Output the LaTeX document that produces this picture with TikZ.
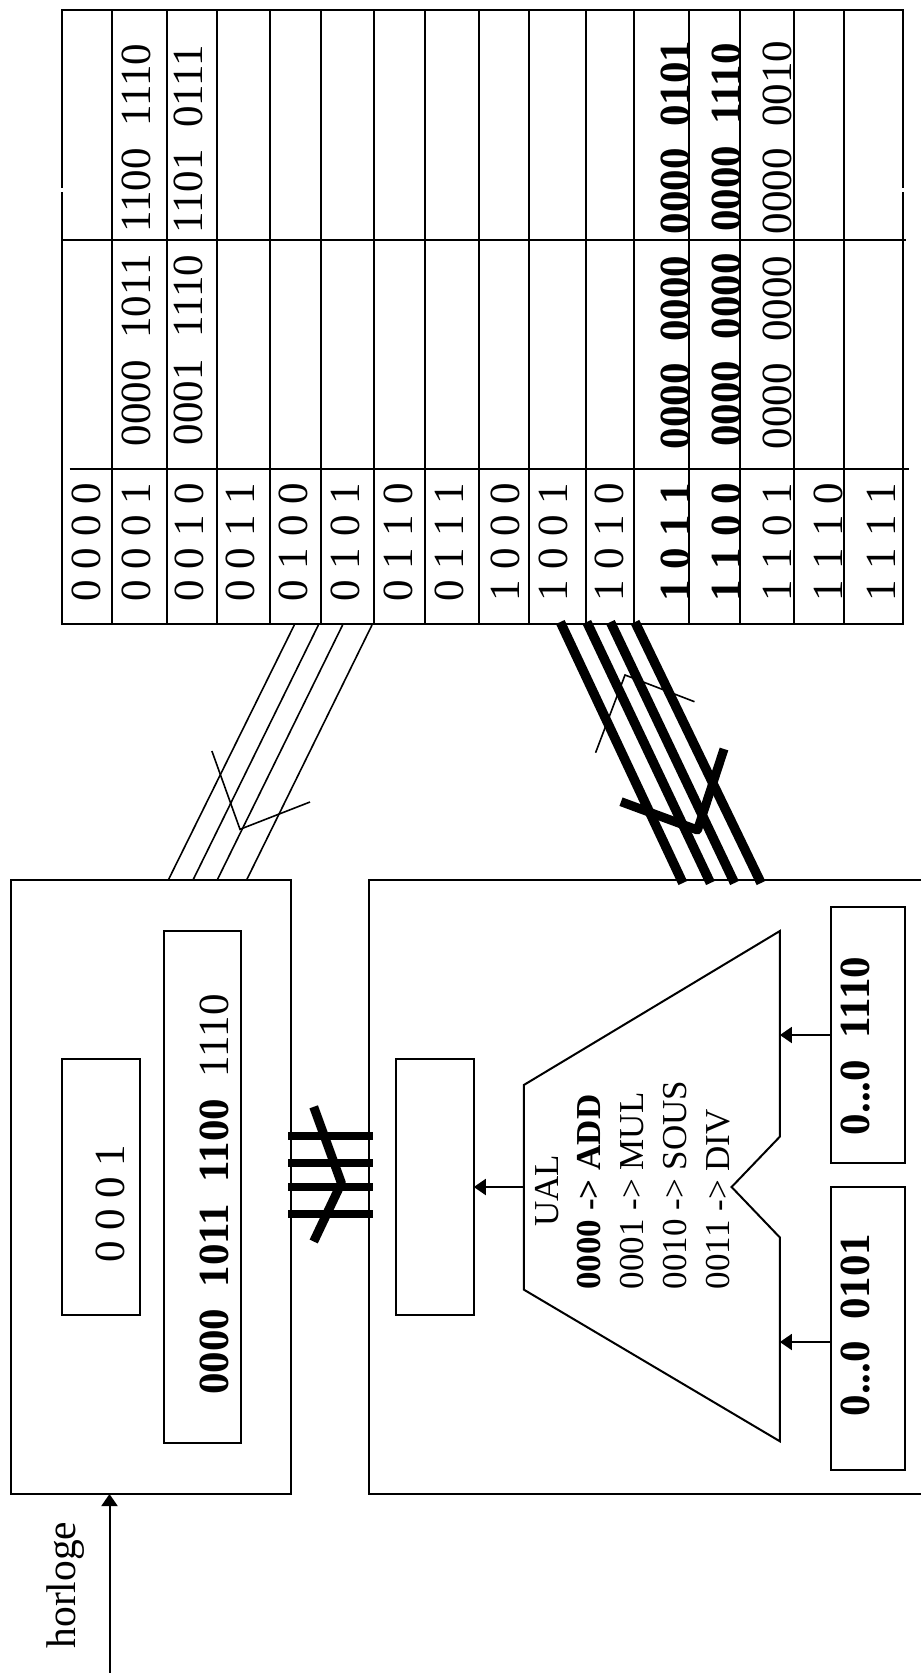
\documentclass[tikz,border=0pt]{standalone}
\usepackage{fontspec}
\setmainfont{Liberation Serif}
\usetikzlibrary{arrows.meta}
\tikzset{
  x=1pt,y=-1pt,
  line/.style={draw=black,line width=2pt},
  box/.style={line,anchor=north west,inner sep=0pt,outer sep=0pt,fill=none},
  big/.style={rotate=90,inner sep=0pt,outer sep=0pt,font=\fontsize{43}{50}\selectfont},
  bigb/.style={big,font=\fontsize{43}{50}\selectfont\bfseries},
  ual/.style={rotate=90,inner sep=0pt,outer sep=0pt,anchor=west,font=\fontsize{35}{40}\selectfont},
  ualb/.style={ual,font=\fontsize{35}{40}\selectfont\bfseries},
  thin bus/.style={draw=black,line width=1.6pt},
  thick bus/.style={draw=black,line width=9.5pt},
  head/.style={-{Triangle[length=12pt,width=16pt]}},
}
\begin{document}
\begin{tikzpicture}
\path[fill=white] (0,0) rectangle (923,1673);
\useasboundingbox (0,0) rectangle (923,1673);

% memory table
\node[box,minimum width=841.2pt,minimum height=614pt] (mem) at (61.8,10) {};
\foreach \xx in {112.4,166.6,216.6,270.2,321.4,373.8,425,478.5,529.1,585.6,633.9,689.2,740.4,794,844}
  \draw[line] (\xx,10) -- (\xx,624);
\coordinate (h1a) at (61.8,239.6); \coordinate (h1b) at (906.4,239.6);
\coordinate (h2a) at (69.5,469.3); \coordinate (h2b) at (909,469.3);
\draw[line] (h1a) -- (h1b);
\draw[line] (h2a) -- (h2b);
\draw[white,line width=2.4pt] (61.8,188) -- (61.8,192);
\draw[white,line width=2.4pt] (903,188) -- (903,192);

% addresses
\node[big]  (a0)  at (86.5,542.3) {0 0 0 0};
\node[big]  (a1)  at (136.6,542.3) {0 0 0 1};
\node[big]  (a2)  at (189.5,542.3) {0 0 1 0};
\node[big]  (a3)  at (240.7,542.3) {0 0 1 1};
\node[big]  (a4)  at (293.7,542.3) {0 1 0 0};
\node[big]  (a5)  at (345,542.3) {0 1 0 1};
\node[big]  (a6)  at (398,542.3) {0 1 1 0};
\node[big]  (a7)  at (449,542.3) {0 1 1 1};
\node[big]  (a8)  at (505,542.3) {1 0 0 0};
\node[big]  (a9)  at (553,542.3) {1 0 0 1};
\node[big]  (a10) at (609,542.3) {1 0 1 0};
\node[bigb] (a11) at (675,542.3) {1 0 1 1};
\node[bigb] (a12) at (726,542.3) {1 1 0 0};
\node[big]  (a13) at (777,542.3) {1 1 0 1};
\node[big]  (a14) at (828,542.3) {1 1 1 0};
\node[big]  (a15) at (881,542.3) {1 1 1 1};

% memory data
\node[big]  (d1)  at (136.6,245) {0000\ \ 1011\ \ 1100\ \ 1110};
\node[big]  (d2)  at (188.3,245) {0001\ \ 1110\ \ 1101\ \ 0111};
\node[bigb] (d11) at (675,245) {0000\ \ 0000\ \ 0000\ \ 0101};
\node[bigb] (d12) at (726,245) {0000\ \ 0000\ \ 0000\ \ 1110};
\node[big]  (d13) at (777,245) {0000\ \ 0000\ \ 0000\ \ 0010};

% address bus
\coordinate (ab1t) at (294.3,625); \coordinate (ab1b) at (168.3,880);
\coordinate (ab2t) at (318.4,625); \coordinate (ab2b) at (193,880);
\coordinate (ab3t) at (342.6,625); \coordinate (ab3b) at (217.2,880);
\coordinate (ab4t) at (372,625);   \coordinate (ab4b) at (246.6,880);
\foreach \i in {1,2,3,4} \draw[thin bus] (ab\i t) -- (ab\i b);
\coordinate (as1) at (211.9,751); \coordinate (as2) at (240,829.3); \coordinate (as3) at (310,802);
\draw[thin bus] (as1) -- (as2) -- (as3);

% data bus
\coordinate (ds1) at (595.6,752.7); \coordinate (ds2) at (625,675); \coordinate (ds3) at (694.5,701.7);
\draw[thin bus] (ds1) -- (ds2) -- (ds3);
\coordinate (db1t) at (560.3,622); \coordinate (db1b) at (682.8,883);
\coordinate (db2t) at (586.8,622); \coordinate (db2b) at (710.4,883);
\coordinate (db3t) at (610.4,622); \coordinate (db3b) at (734.5,883);
\coordinate (db4t) at (635,622);   \coordinate (db4b) at (761,883);
\foreach \i in {1,2,3,4} \draw[thick bus] (db\i t) -- (db\i b);
\coordinate (dk1) at (621,801.7); \coordinate (dk2) at (697.5,830); \coordinate (dk3) at (724,749);
\draw[draw=black,line width=9pt,line join=round] (dk1) -- (dk2) -- (dk3);

% control unit
\node[box,minimum width=280.8pt,minimum height=614pt] (cu) at (10.6,880) {};
\node[box,minimum width=78.2pt,minimum height=256.3pt] (pc) at (61.8,1058.7) {};
\node[big] (pctext) at (110,1203.8) {0 0 0 1};
\node[box,minimum width=77.7pt,minimum height=512.6pt] (ri) at (163.6,930.7) {};
\node[big] (ritext) at (214,1194.5) {\textbf{0000\ \ 1011\ \ 1100}\ \ 1110};

% clock
\coordinate (clk) at (109.5,1673);
\coordinate (clkin) at (109.5,1494);
\draw[line,head] (clk) -- (clkin);
\node[rotate=90,inner sep=0pt,outer sep=0pt,anchor=base,font=\fontsize{41.5}{50}\selectfont] (hor) at (75.3,1585) {horloge};

% processing unit
\coordinate (pu1) at (921,880); \coordinate (pu2) at (369,880); \coordinate (pu3) at (369,1494); \coordinate (pu4) at (921,1494);
\draw[line] (pu1) -- (pu2) -- (pu3) -- (pu4);
\node[box,minimum width=78.3pt,minimum height=256.3pt] (acc) at (395.5,1058.7) {};

% internal bus
\foreach \i/\yy in {1/1136.2,2/1163.2,3/1187,4/1213.7}{
  \coordinate (ib\i a) at (288.4,\yy); \coordinate (ib\i b) at (372.6,\yy);
  \draw[draw=black,line width=8pt] (ib\i a) -- (ib\i b);
}
\coordinate (ik1) at (313.7,1106.8); \coordinate (ik2) at (341.4,1183); \coordinate (ik3) at (313.7,1241.5);
\draw[draw=black,line width=9pt,line join=round] (ik1) -- (ik2) -- (ik3);

% ALU
\coordinate (u1) at (523.8,1085); \coordinate (u2) at (779.9,931); \coordinate (u3) at (779.9,1136.6);
\coordinate (u4) at (731.6,1187); \coordinate (u5) at (779.9,1237.5); \coordinate (u6) at (779.9,1441.3);
\coordinate (u7) at (523.8,1289.6);
\draw[line] (u1) -- (u2) -- (u3) -- (u4) -- (u5) -- (u6) -- (u7) -- cycle;
\node[rotate=90,inner sep=0pt,outer sep=0pt,font=\fontsize{35}{40}\selectfont] (ualt) at (547.4,1191) {UAL};
\node[ualb] (op0) at (589,1289.6) {0000 -> ADD};
\node[ual]  (op1) at (632,1289) {0001 -> MUL};
\node[ual]  (op2) at (675,1289) {0010 -> SOUS};
\node[ual]  (op3) at (718,1289) {0011 -> DIV};
\coordinate (ualout) at (523.8,1187); \coordinate (accin) at (473.8,1187);
\draw[line,head] (ualout) -- (accin);

% operands
\node[box,minimum width=74.7pt,minimum height=256.5pt] (opa) at (830.5,906.7) {};
\node[box,minimum width=74.7pt,minimum height=283pt] (opb) at (830.5,1187) {};
\node[bigb] (opat) at (855.8,1046) {0...0\ \ 1110};
\node[bigb] (opbt) at (855.8,1325) {0...0\ \ 0101};
\coordinate (ina1) at (830.5,1035); \coordinate (ina2) at (779.9,1035);
\coordinate (inb1) at (830.5,1342); \coordinate (inb2) at (779.9,1342);
\draw[line,head] (ina1) -- (ina2);
\draw[line,head] (inb1) -- (inb2);
\end{tikzpicture}
\end{document}
